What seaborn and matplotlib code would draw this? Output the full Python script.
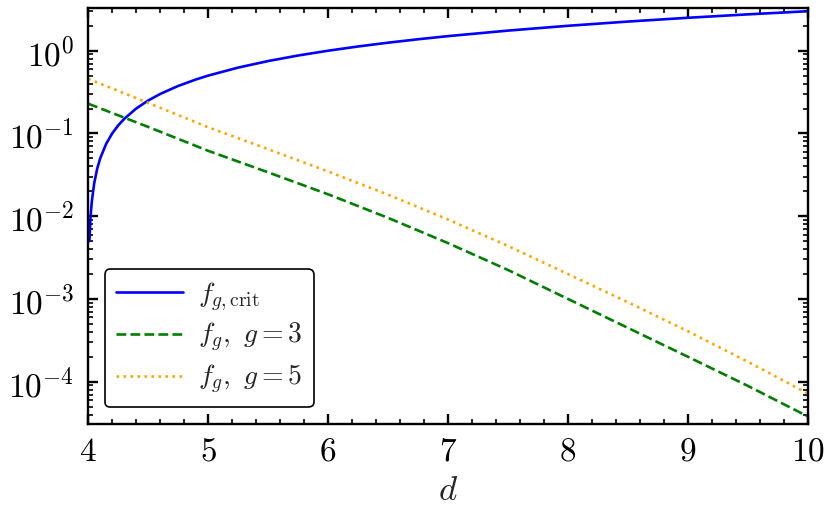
import matplotlib
matplotlib.use("Agg")
import matplotlib.pyplot as plt
import matplotlib.ticker as mticker
import pandas as pd
import seaborn as sns

# values
d_crit = [4.01, 4.02, 4.03, 4.05, 4.075, 4.1, 4.15, 4.2, 4.25, 4.3, 4.4,
          4.5, 4.6, 4.75, 4.9, 5.0, 5.25, 5.5, 5.75, 6.0, 6.25, 6.5, 6.75,
          7.0, 7.5, 8.0, 8.5, 9.0, 9.5, 10.0]
f_crit = [0.005, 0.01, 0.015, 0.025, 0.0375, 0.05, 0.075, 0.1, 0.125, 0.15, 0.2,
          0.25, 0.3, 0.375, 0.45, 0.5, 0.625, 0.75, 0.875, 1.0, 1.125, 1.25, 1.375,
          1.5, 1.75, 2.0, 2.25, 2.5, 2.75, 3.0]

d_grid = [4.0, 4.5, 5.0, 5.5, 6.0, 6.5, 7.0, 7.5, 8.0, 8.5, 9.0, 9.5, 10.0]
f_g3 = [0.229, 0.120, 0.0617, 0.0339, 0.0184, 0.00955, 0.00473, 0.00224,
        0.0010, 0.000447, 0.0002, 8.9e-5, 3.8e-5]
f_g5 = [0.457, 0.234, 0.119, 0.0646, 0.0347, 0.0182, 0.00912, 0.00437,
        0.0020, 0.000912, 0.000407, 0.000174, 7.2e-5]

labels = [r"$f_{g,\mathrm{crit}}$", r"$f_g,\ g=3$", r"$f_g,\ g=5$"]

sns.set_theme(style="ticks")
plt.rcParams.update({
    "font.family": "serif",
    "font.serif": ["cmr10", "DejaVu Serif"],
    "mathtext.fontset": "cm",
    "axes.formatter.use_mathtext": True,
    "axes.unicode_minus": False,
})

df_crit = pd.DataFrame({"d": d_crit, "f": f_crit})
df_g3 = pd.DataFrame({"d": d_grid, "f": f_g3})
df_g5 = pd.DataFrame({"d": d_grid, "f": f_g5})

fig, ax = plt.subplots(figsize=(8.32, 5.2), dpi=100)

sns.lineplot(data=df_crit, x="d", y="f", ax=ax, color="blue", lw=1.9,
             label=labels[0])
sns.lineplot(data=df_g3, x="d", y="f", ax=ax, color="green", lw=1.9,
             linestyle="--", label=labels[1])
sns.lineplot(data=df_g5, x="d", y="f", ax=ax, color="orange", lw=1.9,
             linestyle=":", label=labels[2])

ax.set_yscale("log")
ax.set_xlim(4, 10)
ax.set_ylim(3.1e-5, 3.3)
ax.xaxis.set_minor_locator(mticker.MultipleLocator(0.2))
ax.yaxis.set_minor_locator(mticker.LogLocator(base=10, subs=range(2, 10), numticks=20))
ax.yaxis.set_minor_formatter(mticker.NullFormatter())

ax.set_xlabel(r"$d$", fontsize=25, labelpad=6)
ax.set_ylabel("")

for s in ax.spines.values():
    s.set_linewidth(1.7)
    s.set_color("black")
ax.tick_params(which="both", direction="in", top=True, right=True,
               colors="black", labelsize=24)
ax.tick_params(which="major", length=7, width=1.7, pad=10)
ax.tick_params(which="minor", length=3.5, width=1.2)

leg = ax.legend(loc="lower left", fontsize=20, frameon=True, fancybox=True,
                handlelength=2.4, handletextpad=0.55, labelspacing=0.3,
                borderaxespad=0.6, borderpad=0.4, framealpha=1)
leg.get_frame().set_edgecolor("black")
leg.get_frame().set_linewidth(1.2)

fig.subplots_adjust(left=0.106, right=0.971, top=0.985, bottom=0.185)
fig.savefig("out.png", dpi=100)
